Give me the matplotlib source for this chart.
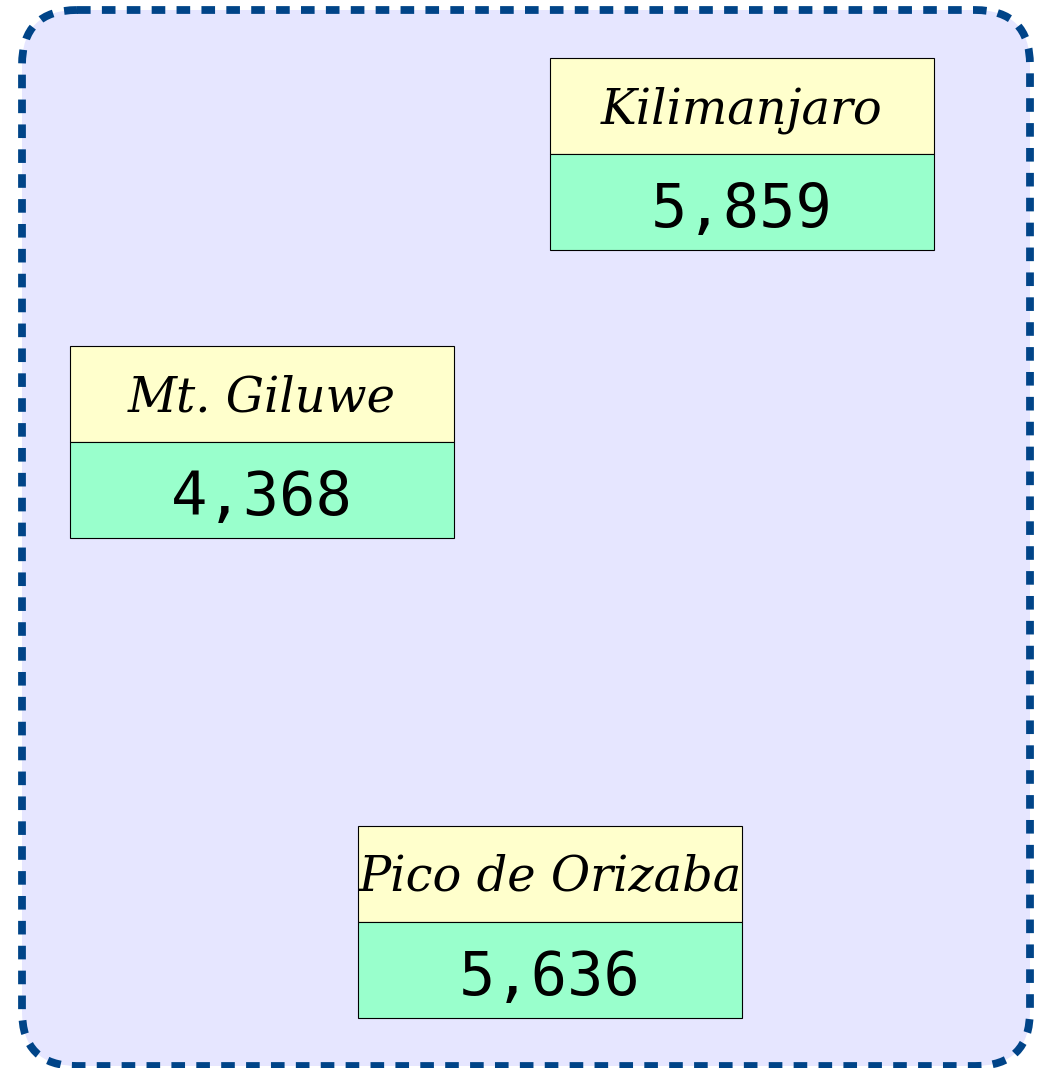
import matplotlib.pyplot as plt
from matplotlib.patches import FancyBboxPatch, Rectangle

# mountains and heights (m)
names = ["Kilimanjaro", "Mt. Giluwe", "Pico de Orizaba"]
heights = [5859, 4368, 5636]

# where each card sits (top-left corner, pixel space)
card_x = [550, 70, 358]
card_y = [58, 346, 826]
card_w = 384
cell_h = 96

fig = plt.figure(figsize=(10.37, 10.68), dpi=100)
ax = fig.add_axes([0, 0, 1, 1])
ax.set_xlim(0, 1037)
ax.set_ylim(1068, 0)
ax.axis("off")

frame = FancyBboxPatch((22, 10), 1008, 1056,
                       boxstyle="round,pad=0,rounding_size=55",
                       facecolor="#E6E6FF", edgecolor="#004488",
                       linewidth=5.6, linestyle=(0, (1.75, 1.45)))
ax.add_patch(frame)

for name, h, x, y in zip(names, heights, card_x, card_y):
    ax.add_patch(Rectangle((x, y), card_w, cell_h, facecolor="#FFFFCC",
                           edgecolor="black", linewidth=0.8))
    ax.add_patch(Rectangle((x, y + cell_h), card_w, cell_h, facecolor="#99FFCC",
                           edgecolor="black", linewidth=0.8))
    ax.text(x + card_w / 2, y + 65, name, ha="center", va="baseline",
            family="DejaVu Serif", style="italic", fontsize=34.5)
    ax.text(x + card_w / 2, y + cell_h + 73, f"{h:,}", ha="center", va="baseline",
            family="DejaVu Sans Mono", fontsize=43.5)

fig.savefig("out.png", dpi=100)
